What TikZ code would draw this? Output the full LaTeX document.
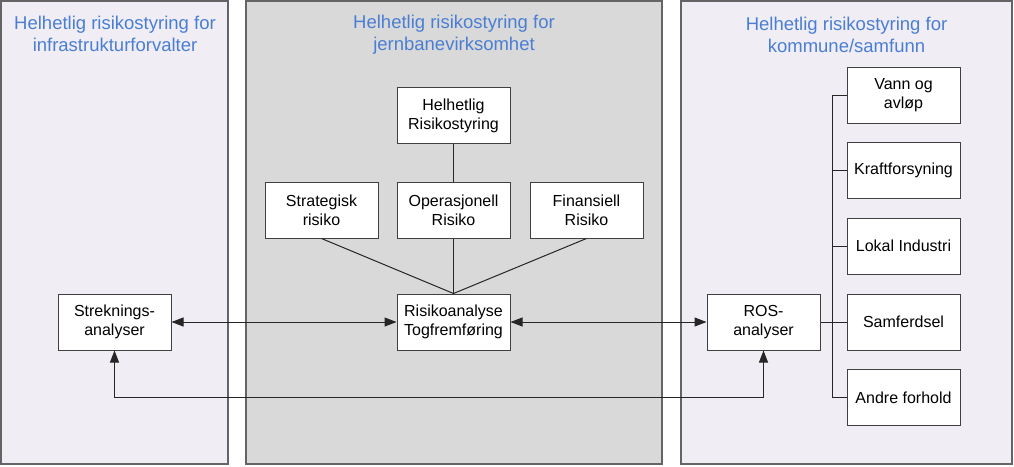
\documentclass[tikz,border=0pt]{standalone}
\usepackage{fontspec}
\setmainfont{Liberation Sans}
\usetikzlibrary{arrows.meta}
\definecolor{lav}{RGB}{240,238,244}
\definecolor{midgray}{RGB}{217,217,217}
\definecolor{titleblue}{RGB}{74,126,212}
\definecolor{paneledge}{RGB}{100,100,100}
\definecolor{boxedge}{RGB}{64,64,64}
\begin{document}
\begin{tikzpicture}[x=1pt,y=-1pt,
  panel/.style={draw=paneledge,line width=1.5pt},
  box/.style={draw=boxedge,fill=white,line width=1pt,minimum width=113pt,minimum height=56pt,inner sep=0pt,align=center,font=\fontsize{16}{19}\selectfont},
  ttl/.style={text=titleblue,align=center,font=\fontsize{18.5}{22}\selectfont},
  conn/.style={draw=black!85,line width=1pt},
  darr/.style={conn,{Triangle[length=12pt,width=9pt]}-{Triangle[length=12pt,width=9pt]}}]
\useasboundingbox (0,0) rectangle (1014,466);
% panels
\draw[panel,fill=lav] (1,1) rectangle (228,464);
\draw[panel,fill=midgray] (246,1) rectangle (662,464);
\draw[panel,fill=lav] (681,1) rectangle (1012,464);
% titles
\node[ttl] (t1) at (115,34) {Helhetlig risikostyring for\\infrastrukturforvalter};
\node[ttl] (t2) at (454,34.5) {Helhetlig risikostyring for\\jernbanevirksomhet};
\node[ttl] (t3) at (846.5,34.5) {Helhetlig risikostyring for\\kommune/samfunn};
% middle
\node[box] (hr) at (453.5,115.5) {Helhetlig\\Risikostyring};
\node[box] (sr) at (321.5,210) {Strategisk\\risiko};
\node[box] (or) at (453.5,210) {Operasjonell\\Risiko};
\node[box] (fr) at (586.5,210) {Finansiell\\Risiko};
\node[box] (rt) at (453.5,322) {Risikoanalyse\\Togfremføring};
% left
\node[box] (sa) at (114.5,322) {Streknings-\\analyser};
% right
\node[box] (ros) at (763.5,322) {ROS-\\analyser};
\node[box] (va) at (903.5,95) {Vann og\\avløp};
\node[box] (kf) at (903.5,170.5) {Kraftforsyning};
\node[box] (li) at (903.5,246) {Lokal Industri};
\node[box] (sf) at (903.5,322) {Samferdsel};
\node[box] (af) at (903.5,397.5) {Andre forhold};
% middle connectors
\draw[conn] (hr.south) -- (or.north);
\draw[conn] (sr.south) -- (rt.north);
\draw[conn] (or.south) -- (rt.north);
\draw[conn] (fr.south) -- (rt.north);
% arrows
\draw[darr] (sa.east) -- (rt.west);
\draw[darr] (rt.east) -- (ros.west);
\draw[darr] (sa.south) -- ++(0,47) -| (ros.south);
% bus
\coordinate (bt) at (832,95);
\draw[conn] (va.west) -- (va.west -| bt) -- (af.west -| bt) -- (af.west);
\draw[conn] (kf.west) -- (kf.west -| bt);
\draw[conn] (li.west) -- (li.west -| bt);
\draw[conn] (ros.east) -- (sf.west);
\end{tikzpicture}
\end{document}
